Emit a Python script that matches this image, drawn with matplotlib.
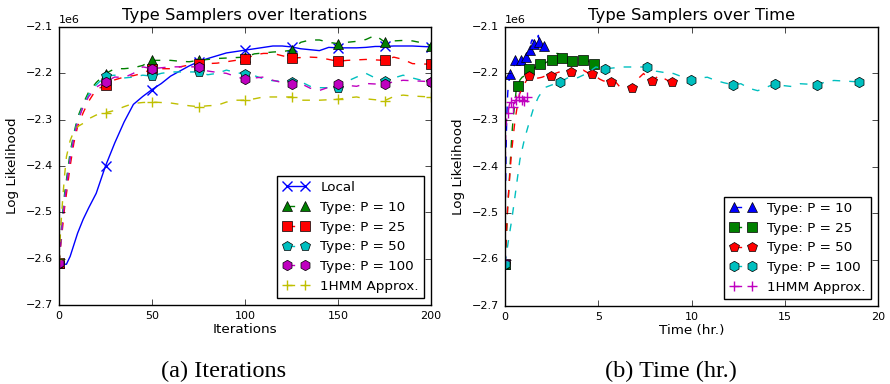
import matplotlib
matplotlib.use("Agg")
import matplotlib.pyplot as plt

plt.style.use("classic")
plt.rcParams["font.family"] = ["DejaVu Sans"]

# ---------------- data ----------------
ITERS = [0, 1, 2, 3, 4, 6, 8, 10, 13, 16, 20, 25, 30, 35, 40, 45, 50, 55, 60, 65, 70,
         75, 80, 85, 90, 95, 100, 105, 110, 115, 120, 125, 130, 135, 140, 145, 150,
         155, 160, 165, 170, 175, 180, 185, 190, 195, 200]

# log likelihood, in millions
LOCAL = [-2.610, -2.612, -2.612, -2.612, -2.612, -2.595, -2.570, -2.545, -2.515, -2.490,
         -2.459, -2.400, -2.350, -2.305, -2.267, -2.250, -2.235, -2.222, -2.206, -2.195,
         -2.184, -2.175, -2.168, -2.162, -2.156, -2.153, -2.150, -2.147, -2.144, -2.141,
         -2.141, -2.143, -2.147, -2.149, -2.151, -2.144, -2.145, -2.145, -2.145, -2.144,
         -2.142, -2.142, -2.141, -2.141, -2.141, -2.142, -2.143]
P10 = [-2.610, -2.550, -2.500, -2.460, -2.430, -2.370, -2.330, -2.295, -2.265, -2.240,
       -2.220, -2.2005, -2.190, -2.190, -2.188, -2.183, -2.172, -2.172, -2.172, -2.174,
       -2.175, -2.172, -2.170, -2.168, -2.167, -2.166, -2.165, -2.158, -2.156, -2.154,
       -2.153, -2.150, -2.133, -2.128, -2.128, -2.133, -2.136, -2.133, -2.131, -2.127,
       -2.118, -2.132, -2.130, -2.129, -2.130, -2.134, -2.140]
P25 = [-2.610, -2.570, -2.530, -2.490, -2.460, -2.400, -2.350, -2.315, -2.285, -2.260,
       -2.235, -2.226, -2.214, -2.208, -2.205, -2.200, -2.190, -2.190, -2.190, -2.186,
       -2.182, -2.179, -2.179, -2.178, -2.175, -2.172, -2.170, -2.160, -2.157, -2.157,
       -2.162, -2.167, -2.166, -2.165, -2.166, -2.170, -2.174, -2.172, -2.171, -2.170,
       -2.171, -2.172, -2.165, -2.170, -2.179, -2.180, -2.180]
P50 = [-2.610, -2.560, -2.510, -2.470, -2.440, -2.380, -2.335, -2.300, -2.270, -2.245,
       -2.225, -2.206, -2.204, -2.210, -2.208, -2.204, -2.206, -2.200, -2.197, -2.197,
       -2.197, -2.197, -2.203, -2.200, -2.193, -2.198, -2.202, -2.205, -2.212, -2.216,
       -2.217, -2.218, -2.218, -2.228, -2.231, -2.231, -2.231, -2.217, -2.208, -2.200,
       -2.210, -2.217, -2.210, -2.204, -2.210, -2.215, -2.218]
P100 = [-2.610, -2.560, -2.515, -2.475, -2.445, -2.385, -2.340, -2.305, -2.272, -2.250,
        -2.230, -2.218, -2.208, -2.209, -2.200, -2.186, -2.190, -2.188, -2.186, -2.186,
        -2.186, -2.186, -2.195, -2.198, -2.200, -2.207, -2.213, -2.210, -2.208, -2.215,
        -2.220, -2.224, -2.222, -2.232, -2.237, -2.230, -2.222, -2.226, -2.228, -2.222,
        -2.223, -2.224, -2.218, -2.215, -2.216, -2.217, -2.218]
HMM1 = [-2.600, -2.530, -2.470, -2.420, -2.380, -2.345, -2.325, -2.315, -2.308, -2.298,
        -2.290, -2.285, -2.280, -2.272, -2.265, -2.263, -2.262, -2.263, -2.264, -2.267,
        -2.270, -2.272, -2.270, -2.269, -2.262, -2.258, -2.258, -2.255, -2.251, -2.251,
        -2.251, -2.251, -2.258, -2.258, -2.258, -2.257, -2.256, -2.253, -2.251, -2.255,
        -2.257, -2.259, -2.250, -2.247, -2.249, -2.250, -2.251]

# elapsed wall-clock time (hours) at each entry of ITERS
T_P10 = [0, 0.01, 0.02, 0.03, 0.04, 0.055, 0.075, 0.095, 0.12, 0.15, 0.2, 0.27, 0.32,
         0.38, 0.43, 0.49, 0.54, 0.6, 0.67, 0.73, 0.8, 0.86, 0.91, 0.96, 1.0, 1.05, 1.1,
         1.15, 1.2, 1.26, 1.31, 1.36, 1.4, 1.44, 1.49, 1.53, 1.57, 1.62, 1.68, 1.73,
         1.79, 1.84, 1.89, 1.94, 1.99, 2.04, 2.09]
T_P25 = [0, 0.05, 0.1, 0.14, 0.19, 0.27, 0.34, 0.4, 0.47, 0.54, 0.6, 0.68, 0.8, 0.92,
         1.05, 1.17, 1.29, 1.41, 1.53, 1.65, 1.77, 1.89, 2.01, 2.13, 2.26, 2.38, 2.5,
         2.61, 2.73, 2.84, 2.96, 3.07, 3.18, 3.29, 3.39, 3.5, 3.61, 3.73, 3.85, 3.96,
         4.08, 4.2, 4.31, 4.42, 4.53, 4.64, 4.75]
T_P50 = [0, 0.06, 0.11, 0.17, 0.22, 0.33, 0.44, 0.54, 0.66, 0.77, 1.0, 1.29, 1.52, 1.76,
         1.99, 2.23, 2.46, 2.68, 2.89, 3.11, 3.32, 3.54, 3.76, 3.98, 4.2, 4.42, 4.64,
         4.85, 5.07, 5.28, 5.5, 5.71, 5.93, 6.14, 6.36, 6.57, 6.79, 7.0, 7.22, 7.43,
         7.65, 7.86, 8.07, 8.29, 8.5, 8.72, 8.93]
T_P100 = [0, 0.18, 0.36, 0.5, 0.6, 0.8, 1.05, 1.3, 1.55, 1.8, 2.15, 2.95, 3.43, 3.9,
          4.38, 4.87, 5.36, 5.82, 6.27, 6.73, 7.18, 7.64, 8.1, 8.56, 9.03, 9.49, 9.95,
          10.4, 10.85, 11.3, 11.75, 12.2, 12.65, 13.1, 13.55, 14.0, 14.46, 14.92, 15.38,
          15.83, 16.29, 16.75, 17.2, 17.64, 18.09, 18.53, 18.98]
T_HMM1 = [0, 0.005, 0.01, 0.015, 0.02, 0.03, 0.04, 0.05, 0.07, 0.09, 0.11, 0.14, 0.18,
          0.21, 0.25, 0.28, 0.32, 0.35, 0.37, 0.4, 0.42, 0.45, 0.47, 0.5, 0.52, 0.55,
          0.57, 0.61, 0.64, 0.68, 0.71, 0.75, 0.78, 0.81, 0.83, 0.86, 0.89, 0.92, 0.95,
          0.98, 1.01, 1.04, 1.07, 1.1, 1.12, 1.15, 1.18]

LABELS = ["Local", "Type: P = 10", "Type: P = 25", "Type: P = 50", "Type: P = 100",
          "1HMM Approx."]
Y_TICKS = [-2.7, -2.6, -2.5, -2.4, -2.3, -2.2, -2.1]
X_TICKS_ITER = [0, 50, 100, 150, 200]
X_TICKS_TIME = [0, 5, 10, 15, 20]
SCALE = 1e6

# ---------------- style ----------------
MARK_IDX = [i for i, it in enumerate(ITERS) if it % 25 == 0]
B, G, R, C, M, Y = "#0000ff", "#008000", "#ff0000", "#00bfbf", "#bf00bf", "#bfbf00"
MS = 7.5
DASH = (5.5, 6.5)

TICK_FS = 8
LABEL_FS = 9.7
TITLE_FS = 11.8

fig = plt.figure(figsize=(8.9, 3.84), dpi=100, facecolor="white")
ax1 = fig.add_axes([59 / 890, 1 - 305 / 384, 372 / 890, 278 / 384])
ax2 = fig.add_axes([505 / 890, 1 - 306 / 384, 373 / 890, 279 / 384])


def sc(v):
    return [x * SCALE for x in v]


def series(ax, x, y, color, marker, label, dashed=True, filled=True):
    kw = dict(color=color, marker=marker, markersize=MS, markevery=MARK_IDX,
              label=label, linewidth=1.0)
    if filled:
        kw.update(markerfacecolor=color, markeredgecolor="k", markeredgewidth=0.5)
    else:
        kw.update(markeredgecolor=color, markeredgewidth=1.0)
    line, = ax.plot(x, sc(y), **kw)
    if dashed:
        line.set_dashes(DASH)
    return line


# left panel
series(ax1, ITERS, LOCAL, B, "x", LABELS[0], dashed=False, filled=False)
series(ax1, ITERS, P10, G, "^", LABELS[1])
series(ax1, ITERS, P25, R, "s", LABELS[2])
series(ax1, ITERS, P50, C, "p", LABELS[3])
series(ax1, ITERS, P100, M, "h", LABELS[4])
series(ax1, ITERS, HMM1, Y, "+", LABELS[5], filled=False)

# right panel
series(ax2, T_P10, P10, B, "^", LABELS[1])
series(ax2, T_P25, P25, G, "s", LABELS[2])
series(ax2, T_P50, P50, R, "p", LABELS[3])
series(ax2, T_P100, P100, C, "h", LABELS[4])
series(ax2, T_HMM1, HMM1, M, "+", LABELS[5], filled=False)

for ax, xt, xl, title, xlabel in [
    (ax1, X_TICKS_ITER, (0, 200), "Type Samplers over Iterations", "Iterations"),
    (ax2, X_TICKS_TIME, (0, 20), "Type Samplers over Time", "Time (hr.)"),
]:
    ax.set_xlim(*xl)
    ax.set_ylim(Y_TICKS[0] * SCALE, Y_TICKS[-1] * SCALE)
    ax.set_xticks(xt)
    ax.set_yticks(sc(Y_TICKS))
    ax.ticklabel_format(axis="y", style="sci", scilimits=(0, 0), useOffset=False)
    ax.tick_params(labelsize=TICK_FS, direction="in", top=True, right=True)
    ax.yaxis.get_offset_text().set_fontsize(TICK_FS)
    ax.set_title(title, fontsize=TITLE_FS)
    ax.set_xlabel(xlabel, fontsize=LABEL_FS, labelpad=2)
    ax.set_ylabel("Log Likelihood", fontsize=LABEL_FS)
    ax.grid(False)
    leg = ax.legend(loc="lower right", numpoints=2, fontsize=LABEL_FS, fancybox=False,
                    frameon=True, borderaxespad=0.5)
    leg.get_frame().set_edgecolor("k")
    leg.get_frame().set_linewidth(1.0)

fig.text(224 / 890, 1 - 371 / 384, "(a) Iterations", ha="center", va="center",
         family="Liberation Serif", fontsize=17.5)
fig.text(671 / 890, 1 - 371 / 384, "(b) Time (hr.)", ha="center", va="center",
         family="Liberation Serif", fontsize=17.5)

fig.savefig("out.png", dpi=100, facecolor="white")
